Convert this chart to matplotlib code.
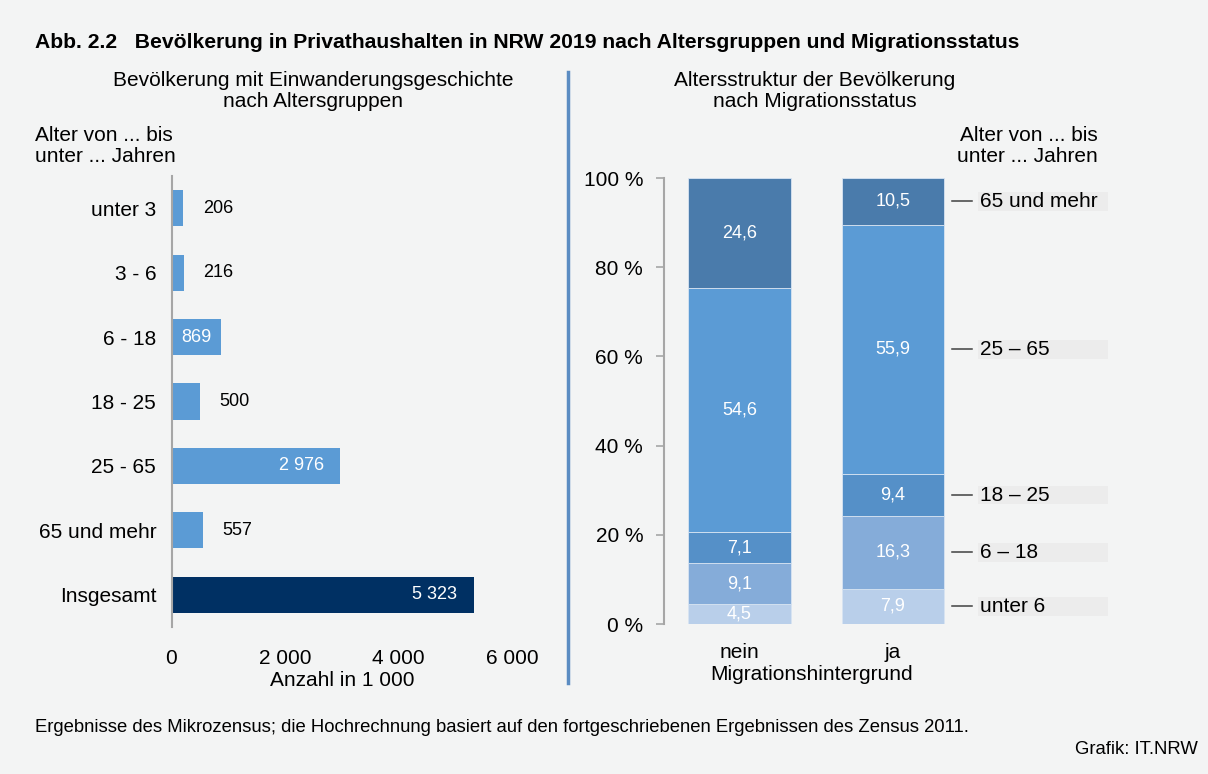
import matplotlib
matplotlib.use("Agg")
import matplotlib.pyplot as plt
import matplotlib.transforms as mtransforms
from matplotlib.patches import Rectangle

plt.rcParams['font.family'] = ['Liberation Sans', 'DejaVu Sans']

# left chart: population with migration history by age group (in 1 000)
age_groups = ['unter 3', '3 - 6', '6 - 18', '18 - 25', '25 - 65', '65 und mehr', 'Insgesamt']
counts = [206, 216, 869, 500, 2976, 557, 5323]
count_labels = ['206', '216', '869', '500', '2 976', '557', '5 323']

# right chart: age structure by migration status (percent)
status = ['nein', 'ja']
seg_names = ['unter 6', '6 – 18', '18 – 25', '25 – 65', '65 und mehr']
share_nein = [4.5, 9.1, 7.1, 54.6, 24.6]
share_ja = [7.9, 16.3, 9.4, 55.9, 10.5]
seg_colors = ['#b9cfea', '#85acd9', '#5590c8', '#5b9bd5', '#4a7bab']

bg = '#f3f4f4'
fig = plt.figure(figsize=(12.08, 7.74), dpi=100, facecolor=bg)

# ---- left panel
ax1 = fig.add_axes([171.5/1208, 1-627/774, 340.5/1208, 451/774])
ax1.set_facecolor(bg)
colors = ['#5b9bd5']*6 + ['#003063']
ypos = list(range(len(age_groups)))
bars = ax1.barh(ypos, counts, height=0.56, color=colors)
ax1.set_ylim(len(age_groups)-0.5, -0.5)
ax1.set_xlim(0, 6000)
ax1.set_yticks(ypos)
ax1.set_yticklabels(age_groups, fontsize=15)
ax1.set_xticks([0, 2000, 4000, 6000])
ax1.set_xticklabels(['0', '2 000', '4 000', '6 000'], fontsize=15)
ax1.tick_params(length=0, pad=11)
ax1.tick_params(axis='x', pad=16)
for s in ['top', 'right', 'bottom']:
    ax1.spines[s].set_visible(False)
ax1.spines['left'].set_color('#a6a6a6')
ax1.spines['left'].set_linewidth(1.5)
ax1.set_xlabel('Anzahl in 1 000', fontsize=15, labelpad=2)

for rect, val, lab in zip(bars, counts, count_labels):
    x = rect.get_width()
    y = rect.get_y() + rect.get_height()/2
    if val < 600:
        ax1.annotate(lab, (x, y), xytext=(14, 0), textcoords='offset points',
                     va='center', ha='left', fontsize=13, color='black')
    elif val < 1500:
        ax1.annotate(lab, (x/2, y), va='center', ha='center', fontsize=13, color='white')
    else:
        ax1.annotate(lab, (x, y), xytext=(-12, 0), textcoords='offset points',
                     va='center', ha='right', fontsize=13, color='white')

# ---- right panel
ax2 = fig.add_axes([664/1208, 1-624/774, 296/1208, 446/774])
ax2.set_facecolor(bg)
xs = [0, 1]
bottoms = [0, 0]
ja_mid = []
for i in range(len(seg_names)):
    vals = [share_nein[i], share_ja[i]]
    ax2.bar(xs, vals, bottom=bottoms, width=0.67, color=seg_colors[i],
            edgecolor='#d8e4f2', linewidth=0.6)
    for x, v, b in zip(xs, vals, bottoms):
        ax2.text(x, b + v/2, f'{v:.1f}'.replace('.', ','), ha='center', va='center',
                 fontsize=13, color='white')
    ja_mid.append(bottoms[1] + share_ja[i]/2)
    bottoms = [bottoms[0] + vals[0], bottoms[1] + vals[1]]

ax2.set_xlim(-0.492, 1.4365)
ax2.set_ylim(0, 100)
ax2.set_yticks([0, 20, 40, 60, 80, 100])
ax2.set_yticklabels(['0 %', '20 %', '40 %', '60 %', '80 %', '100 %'], fontsize=15)
ax2.set_xticks(xs)
ax2.set_xticklabels(status, fontsize=15)
ax2.tick_params(axis='y', length=6, color='#a6a6a6', width=1.2, pad=9)
ax2.tick_params(axis='x', length=0, pad=14)
for s in ['top', 'right', 'bottom']:
    ax2.spines[s].set_visible(False)
ax2.spines['left'].set_color('#a6a6a6')
ax2.spines['left'].set_linewidth(1.5)
ax2.set_xlabel('Migrationshintergrund', fontsize=15, labelpad=2)

trans = mtransforms.blended_transform_factory(ax2.transAxes, ax2.transData)
for name, ym in zip(seg_names, ja_mid):
    ax2.add_patch(Rectangle((1.061, ym - 2.1), 0.44, 4.2, transform=trans,
                            facecolor='#ececec', edgecolor='none', clip_on=False))
    ax2.plot([0.973, 1.04], [ym, ym], transform=trans, color='#404040',
             linewidth=1.1, clip_on=False)
    ax2.text(1.068, ym, name, transform=trans, ha='left', va='center', fontsize=15)

# ---- titles and notes
fig.text(35/1208, 1-42/774, 'Abb. 2.2   Bevölkerung in Privathaushalten in NRW 2019 nach Altersgruppen und Migrationsstatus',
         fontsize=15.2, fontweight='bold', ha='left', va='center')
fig.text(313/1208, 1-91/774, 'Bevölkerung mit Einwanderungsgeschichte\nnach Altersgruppen',
         fontsize=15, ha='center', va='center', linespacing=1.1)
fig.text(815/1208, 1-91/774, 'Altersstruktur der Bevölkerung\nnach Migrationsstatus',
         fontsize=15, ha='center', va='center', linespacing=1.1)
fig.text(35/1208, 1-146/774, 'Alter von ... bis\nunter ... Jahren',
         fontsize=15, ha='left', va='center', linespacing=1.1)
fig.text(1098/1208, 1-146/774, 'Alter von ... bis\nunter ... Jahren',
         fontsize=15, ha='right', va='center', linespacing=1.1)
fig.text(35/1208, 1-728/774, 'Ergebnisse des Mikrozensus; die Hochrechnung basiert auf den fortgeschriebenen Ergebnissen des Zensus 2011.',
         fontsize=13.3, ha='left', va='center')
fig.text(1198/1208, 1-750/774, 'Grafik: IT.NRW', fontsize=13.3, ha='right', va='center')

# divider between the two panels
fig.add_artist(plt.Line2D([568/1208, 568/1208], [1-72/774, 1-683/774],
                          color='#5b8cc2', linewidth=2.5))

fig.savefig('out.png', dpi=100, facecolor=bg)
